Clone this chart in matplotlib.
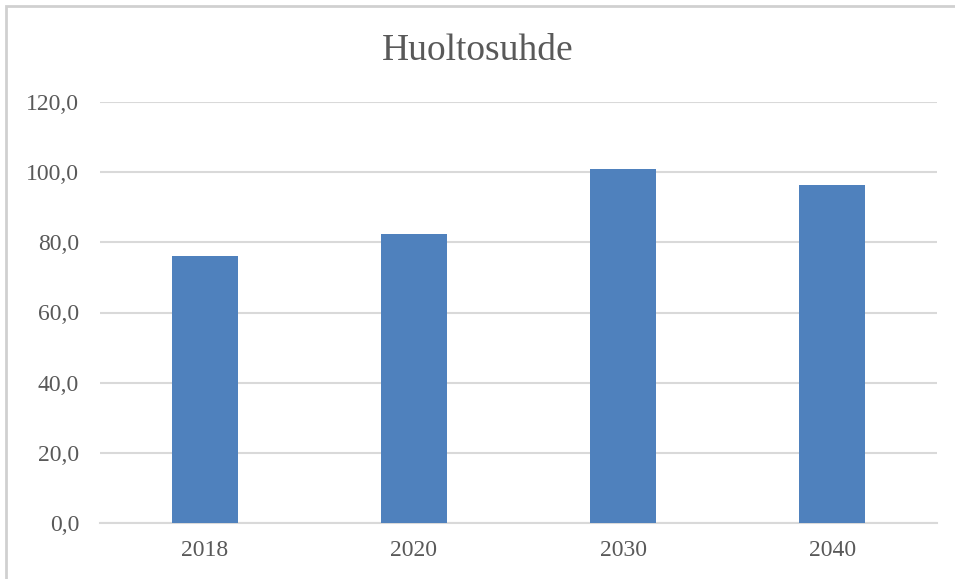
import matplotlib
matplotlib.use("Agg")
import matplotlib.pyplot as plt
from matplotlib.patches import Rectangle
from matplotlib.ticker import FuncFormatter

years = ["2018", "2020", "2030", "2040"]
ratio = [76.2, 82.4, 100.9, 96.4]
yticks = [0, 20, 40, 60, 80, 100, 120]

plt.rcParams["font.family"] = ["Liberation Serif", "DejaVu Serif"]

fig = plt.figure(figsize=(9.55, 5.79), dpi=100)
ax = fig.add_axes([100 / 955, 1 - 523 / 579, 837 / 955, 421 / 579])

x = range(len(years))
ax.bar(x, ratio, width=0.315, color="#4f81bd", zorder=3)

ax.set_xlim(-0.5, len(years) - 0.5)
ax.set_ylim(0, 120)
ax.set_xticks(list(x))
ax.set_xticklabels(years)
ax.set_yticks(yticks)
ax.yaxis.set_major_formatter(FuncFormatter(lambda v, _: f"{v:.1f}".replace(".", ",")))
ax.tick_params(length=0, labelsize=17, labelcolor="#595959")
ax.tick_params(axis="x", pad=12)
ax.tick_params(axis="y", pad=15)

ax.grid(axis="y", color="#d9d9d9", linewidth=1.5, zorder=0)
for side in ("top", "right", "left"):
    ax.spines[side].set_visible(False)
ax.spines["bottom"].set_color("#d9d9d9")
ax.spines["bottom"].set_linewidth(1.5)

fig.text(0.5, 1 - 51 / 579, "Huoltosuhde", ha="center", va="center",
         fontsize=27, color="#595959")

# light chart border (left and top edges visible)
fig.patches.append(Rectangle((6 / 955, -0.1), 2, 1.1 - 6 / 579,
                             transform=fig.transFigure, fill=False,
                             edgecolor="#d0d0d0", linewidth=2))

fig.savefig("out.png", dpi=100)
